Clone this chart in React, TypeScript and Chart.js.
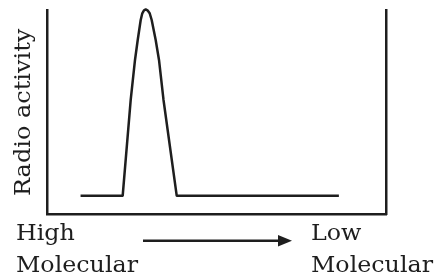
import React, { useEffect, useRef } from "react";
import { Chart, registerables } from "chart.js";

Chart.register(...registerables);

// Elution position (0 = high molecular weight end, 100 = low molecular weight end)
const positions = [
  9.9, 22.33, 24.69, 25.96, 26.76, 27.64, 28.11, 28.61, 29.12, 29.65, 30.29, 30.88, 32.06, 33.04, 34.37, 38.26, 86.1,
];
// Radio activity (arbitrary units)
const activity = [
  9, 9, 55.9, 75.5, 85.3, 95.1, 98.4, 99.85, 100.25, 99.85, 98.4, 95.1, 85.3, 75.5, 55.9, 9, 9,
];

const yAxisLabel = "Radio activity";
const leftLabels = ["High", "Molecular"];
const rightLabels = ["Low", "Molecular"];

const INK = "#1e1e1e";
const FONT = "'DejaVu Serif', serif";

export default function App() {
  const canvasRef = useRef<HTMLCanvasElement | null>(null);

  useEffect(() => {
    if (!canvasRef.current) return;
    const chart = new Chart(canvasRef.current, {
      type: "line",
      data: {
        datasets: [
          {
            data: positions.map((x, i) => ({ x, y: activity[i] })),
            borderColor: INK,
            borderWidth: 2.5,
            pointRadius: 0,
            tension: 0,
            fill: false,
            clip: false as any,
            borderJoinStyle: "round",
          },
        ],
      },
      options: {
        animation: false,
        responsive: false,
        layout: { padding: { left: 47, right: 54, top: 10, bottom: 66 } },
        plugins: { legend: { display: false }, tooltip: { enabled: false } },
        scales: {
          x: {
            type: "linear",
            min: 0,
            max: 100,
            ticks: { display: false },
            grid: { display: false, drawTicks: false },
            border: { display: true, color: INK, width: 2.5 },
          },
          y: {
            min: 0,
            max: 100,
            position: "left",
            ticks: { display: false },
            grid: { display: false, drawTicks: false },
            border: { display: true, color: INK, width: 2.5 },
          },
          y2: {
            min: 0,
            max: 100,
            position: "right",
            ticks: { display: false },
            grid: { display: false, drawTicks: false },
            border: { display: true, color: INK, width: 2.5 },
          },
        },
      },
    });
    return () => chart.destroy();
  }, []);

  const textStyle: React.CSSProperties = {
    position: "absolute",
    fontFamily: FONT,
    fontSize: 22,
    lineHeight: "32px",
    color: INK,
    whiteSpace: "nowrap",
    margin: 0,
    transformOrigin: "0 0",
    transform: "scaleX(1.08)",
  };

  return (
    <div style={{ position: "fixed", left: 0, top: 0, width: 440, height: 280, background: "#fff", overflow: "hidden" }}>
      <canvas ref={canvasRef} width={440} height={280} style={{ position: "absolute", left: 0, top: 0 }} />
      <div
        style={{
          ...textStyle,
          left: 7,
          top: 196,
          transform: "rotate(-90deg) scaleX(1.09)",
        }}
      >
        {yAxisLabel}
      </div>
      <div style={{ ...textStyle, left: 16, top: 217 }}>
        {leftLabels.map((t) => (
          <div key={t}>{t}</div>
        ))}
      </div>
      <div style={{ ...textStyle, left: 311, top: 217 }}>
        {rightLabels.map((t) => (
          <div key={t}>{t}</div>
        ))}
      </div>
      <svg width={440} height={280} style={{ position: "absolute", left: 0, top: 0 }}>
        <line x1={143} y1={240.7} x2={280} y2={240.7} stroke={INK} strokeWidth={2.5} />
        <polygon points="278,235 292,240.7 278,246.4" fill={INK} />
      </svg>
    </div>
  );
}
